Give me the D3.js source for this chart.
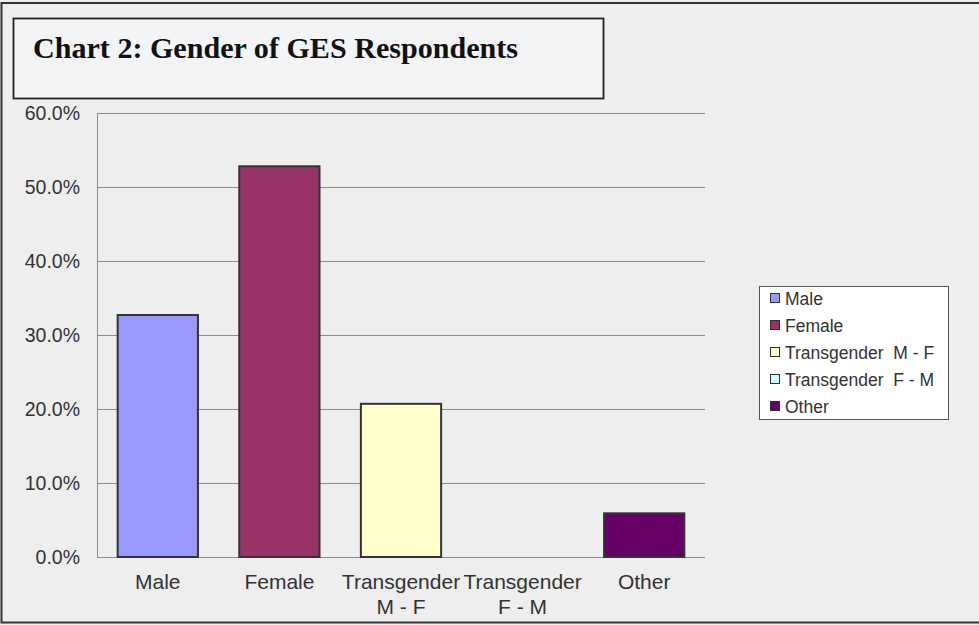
<!DOCTYPE html>
<html>
<head>
<meta charset="utf-8">
<script src="https://cdn.jsdelivr.net/npm/d3@7"></script>
<style>
  body { margin: 0; background: #eeeeee; }
  svg { display: block; }
</style>
</head>
<body>
<svg id="chart" width="979" height="625"></svg>
<script>
// chart data
var categories = ['Male', 'Female', 'Transgender  M - F', 'Transgender  F - M', 'Other'];
var axisLabels = [['Male'], ['Female'], ['Transgender', 'M - F'], ['Transgender', 'F - M'], ['Other']];
var values = [0.327, 0.528, 0.207, 0.0, 0.059];
var colors = ['#9999ff', '#993366', '#ffffcc', '#ccffff', '#660066'];
var yTicks = [0, 0.1, 0.2, 0.3, 0.4, 0.5, 0.6];

var svg = d3.select('#chart');
var sans = 'Liberation Sans, Arial, sans-serif';

// outer frame
svg.append('rect')
    .attr('x', 1.5).attr('y', 3)
    .attr('width', 990).attr('height', 619.5)
    .attr('fill', '#eeeeee')
    .attr('stroke', '#333').attr('stroke-width', 2);

var plot = { left: 97, right: 705, top: 113, bottom: 557 };

var x = d3.scaleBand()
    .domain(categories)
    .range([plot.left, plot.right])
    .paddingInner(0.34)
    .paddingOuter(0.17);

var y = d3.scaleLinear()
    .domain([0, 0.6])
    .range([plot.bottom, plot.top]);

// gridlines
svg.append('g')
    .selectAll('line')
    .data(yTicks)
    .join('line')
    .attr('x1', plot.left).attr('x2', plot.right)
    .attr('y1', d => y(d) + 0.5).attr('y2', d => y(d) + 0.5)
    .attr('stroke', '#8c8c8c').attr('stroke-width', 1);

// left axis line
svg.append('line')
    .attr('x1', plot.left + 0.5).attr('x2', plot.left + 0.5)
    .attr('y1', plot.top).attr('y2', plot.bottom)
    .attr('stroke', '#8c8c8c');

// y axis labels
var yAxis = d3.axisLeft(y)
    .tickValues(yTicks)
    .tickFormat(d3.format('.1%'))
    .tickSize(0)
    .tickPadding(17);
var gy = svg.append('g')
    .attr('transform', 'translate(' + plot.left + ',0)')
    .call(yAxis);
gy.select('.domain').remove();
gy.selectAll('text')
    .attr('font-family', sans)
    .attr('font-size', 19.5)
    .attr('fill', '#333');

// bars
svg.append('g')
    .selectAll('rect')
    .data(values)
    .join('rect')
    .attr('x', (d, i) => x(categories[i]))
    .attr('y', d => y(d))
    .attr('width', x.bandwidth())
    .attr('height', d => y(0) - y(d))
    .attr('fill', (d, i) => colors[i])
    .attr('stroke', (d, i) => d > 0 ? '#333' : 'none')
    .attr('stroke-width', 2);

// x labels
var gx = svg.append('g');
axisLabels.forEach(function(lines, i) {
    var cx = x(categories[i]) + x.bandwidth() / 2;
    var t = gx.append('text')
        .attr('x', cx)
        .attr('y', 589)
        .attr('text-anchor', 'middle')
        .attr('font-family', sans)
        .attr('font-size', 21)
        .attr('fill', '#333');
    lines.forEach(function(l, j) {
        t.append('tspan')
            .attr('x', cx)
            .attr('dy', j == 0 ? 0 : 25)
            .text(l);
    });
});

// title box
svg.append('rect')
    .attr('x', 13.5).attr('y', 18.5)
    .attr('width', 590).attr('height', 80)
    .attr('fill', '#f3f4f6')
    .attr('stroke', '#222').attr('stroke-width', 1.8);
svg.append('text')
    .attr('x', 33).attr('y', 58)
    .attr('font-family', 'Liberation Serif, serif')
    .attr('font-weight', 'bold')
    .attr('font-size', 29)
    .attr('textLength', 485)
    .attr('lengthAdjust', 'spacingAndGlyphs')
    .attr('fill', '#111')
    .text('Chart 2: Gender of GES Respondents');

// legend
var legend = svg.append('g');
legend.append('rect')
    .attr('x', 759.5).attr('y', 286.5)
    .attr('width', 189).attr('height', 133)
    .attr('fill', '#fff')
    .attr('stroke', '#555').attr('stroke-width', 1);
var items = legend.selectAll('g.item')
    .data(categories)
    .join('g')
    .attr('class', 'item')
    .attr('transform', (d, i) => 'translate(770,' + (299 + i * 27) + ')');
items.append('rect')
    .attr('x', 0.5).attr('y', -5.5)
    .attr('width', 9).attr('height', 9)
    .attr('fill', (d, i) => colors[i])
    .attr('stroke', '#333').attr('stroke-width', 1);
items.append('text')
    .attr('x', 15).attr('y', 5.5)
    .attr('font-family', sans)
    .attr('font-size', 17.5)
    .attr('fill', '#333')
    .style('white-space', 'pre')
    .text(d => d);
</script>
</body>
</html>
